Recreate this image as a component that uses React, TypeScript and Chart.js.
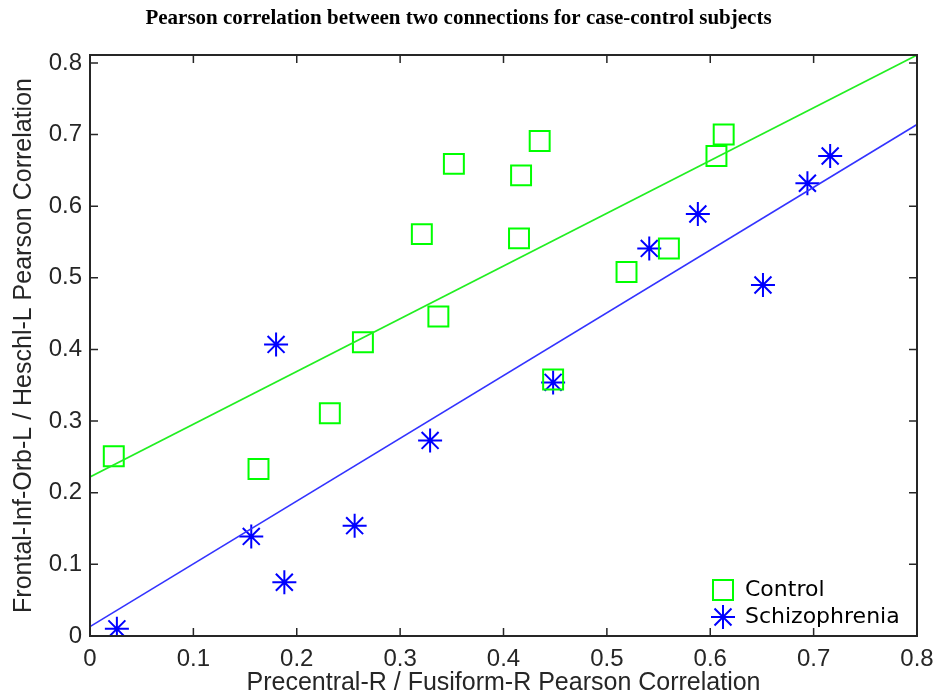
import React, { useEffect, useRef } from "react";
import { Chart, registerables } from "chart.js";

Chart.register(...registerables);

const TITLE = "Pearson correlation between two connections for case-control subjects";
const X_LABEL = "Precentral-R / Fusiform-R Pearson Correlation";
const Y_LABEL = "Frontal-Inf-Orb-L / Heschl-L Pearson Correlation";

const controlX = [0.023, 0.163, 0.232, 0.264, 0.321, 0.337, 0.352, 0.415, 0.417, 0.435, 0.448, 0.519, 0.560, 0.606, 0.613];
const controlY = [0.251, 0.233, 0.311, 0.410, 0.561, 0.446, 0.659, 0.555, 0.643, 0.691, 0.358, 0.508, 0.541, 0.670, 0.700];

const schizoX = [0.026, 0.156, 0.188, 0.180, 0.256, 0.329, 0.448, 0.541, 0.588, 0.651, 0.694, 0.716];
const schizoY = [0.010, 0.139, 0.075, 0.407, 0.154, 0.273, 0.354, 0.541, 0.589, 0.490, 0.632, 0.670];

// fitted line end points
const controlFitX = [0, 0.8];
const controlFitY = [0.222, 0.811];
const schizoFitX = [0, 0.8];
const schizoFitY = [0.013, 0.714];

const X_MIN = 0, X_MAX = 0.8;
const Y_MIN = 0, Y_MAX = 0.811;
const xTicks = [0, 0.1, 0.2, 0.3, 0.4, 0.5, 0.6, 0.7, 0.8];
const yTicks = [0, 0.1, 0.2, 0.3, 0.4, 0.5, 0.6, 0.7, 0.8];

const GREEN = "#00ff00";
const BLUE = "#0000ff";
const AXIS = "#262626";

const zip = (xs: number[], ys: number[]) => xs.map((x, i) => ({ x, y: ys[i] }));
const fmt = (v: any) => (Math.abs(v) < 1e-9 ? "0" : Number(v).toFixed(1));

const boxPlugin = {
  id: "matlabBox",
  afterDatasetsDraw(chart: any) {
    const { ctx, chartArea: a, scales } = chart;
    const tl = 8;
    ctx.save();
    ctx.strokeStyle = AXIS;
    ctx.lineWidth = 2;
    ctx.beginPath();
    ctx.rect(a.left, a.top, a.right - a.left, a.bottom - a.top);
    ctx.stroke();
    ctx.lineWidth = 1.5;
    ctx.beginPath();
    scales.x.ticks.forEach((t: any) => {
      const px = scales.x.getPixelForValue(t.value);
      ctx.moveTo(px, a.bottom);
      ctx.lineTo(px, a.bottom - tl);
      ctx.moveTo(px, a.top);
      ctx.lineTo(px, a.top + tl);
    });
    scales.y.ticks.forEach((t: any) => {
      const py = scales.y.getPixelForValue(t.value);
      ctx.moveTo(a.left, py);
      ctx.lineTo(a.left + tl, py);
      ctx.moveTo(a.right, py);
      ctx.lineTo(a.right - tl, py);
    });
    ctx.stroke();

    // legend (bottom right inside the axes)
    const items = chart.data.datasets.filter((d: any) => d.legendShow);
    const mx = a.right - 194;
    let my = a.bottom - 46;
    ctx.font = "22px 'DejaVu Sans'";
    ctx.textBaseline = "middle";
    ctx.textAlign = "left";
    items.forEach((d: any) => {
      ctx.strokeStyle = d.borderColor;
      ctx.lineWidth = 2;
      ctx.beginPath();
      if (d.pointStyle === "rect") {
        ctx.rect(mx - 10, my - 10, 20, 20);
      } else {
        const r = 12;
        ctx.moveTo(mx - r, my); ctx.lineTo(mx + r, my);
        ctx.moveTo(mx, my - r); ctx.lineTo(mx, my + r);
        const o = r * Math.SQRT1_2;
        ctx.moveTo(mx - o, my - o); ctx.lineTo(mx + o, my + o);
        ctx.moveTo(mx - o, my + o); ctx.lineTo(mx + o, my - o);
      }
      ctx.stroke();
      ctx.fillStyle = "#000";
      ctx.fillText(d.label, mx + 22, my);
      my += 27;
    });
    ctx.restore();
  },
};

export default function App() {
  const ref = useRef<HTMLCanvasElement>(null);
  useEffect(() => {
    document.body.style.margin = "0";
    const chart = new Chart(ref.current!, {
      type: "scatter",
      data: {
        datasets: [
          {
            label: "Control fit",
            data: zip(controlFitX, controlFitY),
            showLine: true,
            borderColor: "#22ee22",
            borderWidth: 1.6,
            pointRadius: 0,
            fill: false,
          } as any,
          {
            label: "Schizophrenia fit",
            data: zip(schizoFitX, schizoFitY),
            showLine: true,
            borderColor: "#3333ff",
            borderWidth: 1.6,
            pointRadius: 0,
            fill: false,
          },
          {
            label: "Control",
            legendShow: true,
            data: zip(controlX, controlY),
            pointStyle: "rect",
            pointRadius: 14.1,
            pointHoverRadius: 14.1,
            borderColor: GREEN,
            backgroundColor: "rgba(0,0,0,0)",
            pointBorderWidth: 2,
            borderWidth: 2,
          },
          {
            label: "Schizophrenia",
            legendShow: true,
            data: zip(schizoX, schizoY),
            pointStyle: "star",
            pointRadius: 12,
            pointHoverRadius: 12,
            borderColor: BLUE,
            backgroundColor: "rgba(0,0,0,0)",
            pointBorderWidth: 2,
            borderWidth: 2,
          },
        ],
      },
      options: {
        animation: false,
        responsive: false,
        layout: { padding: { left: 0, right: 21, top: 0, bottom: 0 } },
        plugins: {
          legend: { display: false },
          tooltip: { enabled: false },
          title: {
            display: true,
            text: TITLE,
            color: "#000",
            font: { family: "'Liberation Serif'", size: 21, weight: "bold" },
            padding: { top: 6.4, bottom: 23.4 },
          },
        },
        scales: {
          x: {
            type: "linear",
            min: X_MIN,
            max: X_MAX,
            afterBuildTicks: (s: any) => {
              s.ticks = xTicks.map((value) => ({ value }));
            },
            ticks: {
              color: AXIS,
              font: { family: "'Liberation Sans'", size: 24 },
              padding: 9,
              maxRotation: 0,
              autoSkip: false,
              callback: fmt,
            },
            grid: { display: false, drawTicks: false },
            border: { display: false },
            title: {
              display: true,
              text: X_LABEL,
              color: AXIS,
              font: { family: "'Liberation Sans'", size: 25 },
              padding: { top: 0, bottom: 2 },
            },
            afterFit: (s: any) => {
              s.height = 64;
              s.paddingLeft = 0;
              s.paddingRight = 0;
            },
          },
          y: {
            type: "linear",
            min: Y_MIN,
            max: Y_MAX,
            afterBuildTicks: (s: any) => {
              s.ticks = yTicks.map((value) => ({ value }));
            },
            ticks: {
              color: AXIS,
              font: { family: "'Liberation Sans'", size: 24 },
              padding: 8,
              autoSkip: false,
              callback: fmt,
            },
            grid: { display: false, drawTicks: false },
            border: { display: false },
            title: {
              display: true,
              text: Y_LABEL,
              color: AXIS,
              font: { family: "'Liberation Sans'", size: 25 },
              padding: { top: 9, bottom: 0 },
            },
            afterFit: (s: any) => {
              s.width = 90;
              s.paddingTop = 0;
              s.paddingBottom = 0;
            },
          },
        },
      },
      plugins: [boxPlugin],
    });
    return () => chart.destroy();
  }, []);
  return (
    <div style={{ width: 938, height: 700 }}>
      <canvas ref={ref} width={938} height={700} style={{ display: "block" }} />
    </div>
  );
}
